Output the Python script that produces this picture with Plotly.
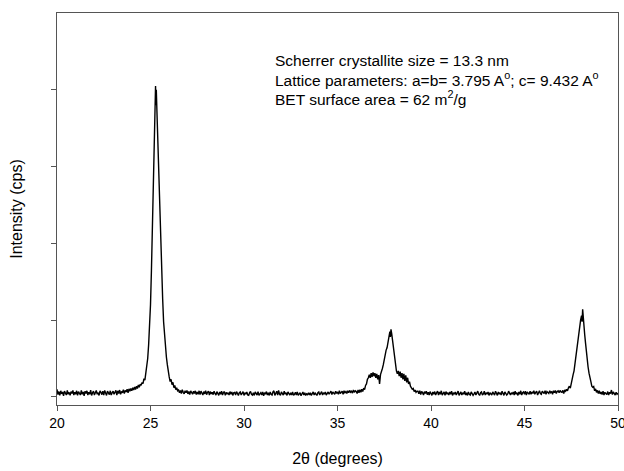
import numpy as np
import plotly.graph_objects as go

# ---- Data (2-theta in degrees, intensity in cps) ----
# Baseline segments on a regular 0.05 deg step scan grid
seg_a_start = 20.00
seg_a_intensity = [
    100, 30, 70, 20, 80, 40, 65, 15, 75, 45, 25, 85, 35, 60, 20, 70, 45, 85, 25, 60,
    35, 80, 20, 70, 50, 25, 85, 35, 65, 15, 75, 45, 80, 25, 60, 35, 90, 20, 55, 75,
    25, 65, 85, 35, 55, 20, 80, 60, 30, 75, 25, 85, 45, 20, 75, 60, 30, 80, 25, 55,
    75, 35, 60, 85, 25, 80, 45, 90, 35, 70, 55, 95, 45, 85, 65, 100, 55, 105, 75, 110,
    80, 120, 90, 130, 95, 140, 110, 155, 125, 165,
]

peak1_theta = [24.50, 24.55, 24.60, 24.65, 24.70, 24.75, 24.80, 24.85, 24.90, 24.95,
               25.00, 25.05, 25.10, 25.15, 25.20, 25.24, 25.27, 25.29, 25.31, 25.34,
               25.38, 25.42, 25.46, 25.50, 25.55, 25.60, 25.65, 25.70, 25.75, 25.80,
               25.85, 25.90, 25.95, 26.00, 26.05, 26.10, 26.15, 26.20, 26.25, 26.30,
               26.35, 26.40, 26.45]
peak1_intensity = [150, 190, 175, 240, 220, 320, 380, 500, 680, 900,
                   1200, 1650, 2200, 2850, 3450, 3850, 4050, 3800, 4000, 3750,
                   3400, 3050, 2700, 2400, 2050, 1650, 1280, 980, 780, 640,
                   520, 420, 310, 260, 200, 230, 160, 190, 120, 150,
                   95, 120, 80]

seg_b_start = 26.50
seg_b_intensity = [
    90, 55, 85, 45, 95, 60, 40, 80, 55, 85, 40, 70, 30, 80, 55, 35, 75, 45, 80, 30,
    65, 35, 80, 30, 75, 50, 25, 70, 40, 80, 30, 60, 75, 25, 70, 40, 60, 30, 75, 45,
    25, 70, 45, 20, 65, 35, 75, 25, 55, 70, 20, 60, 35, 55, 25, 70, 35, 65, 20, 55,
    60, 25, 70, 35, 20, 55, 65, 25, 40, 70, 20, 55, 35, 65, 25, 20, 55, 70, 35, 25,
    55, 20, 65, 35, 25, 70, 20, 40, 55, 25, 65, 15, 55, 35, 70, 25, 55, 20, 65, 35,
    25, 65, 80, 20, 55, 75, 25, 85, 35, 20, 65, 50, 25, 75, 35, 55, 20, 65, 35, 25,
    55, 25, 65, 20, 35, 60, 25, 65, 20, 40, 55, 15, 40, 65, 25, 55, 20, 40, 30, 55,
    25, 55, 20, 40, 65, 25, 55, 35, 20, 55, 65, 25, 40, 70, 25, 55, 35, 65, 25, 55,
    65, 35, 55, 75, 30, 65, 50, 35, 75, 45, 65, 35, 80, 45, 60, 75, 35, 80, 55, 70,
    45, 80, 55, 85, 60, 75, 50, 90, 60, 80,
]

peak2_theta = [36.00, 36.05, 36.10, 36.15, 36.20, 36.25, 36.30, 36.35, 36.40, 36.45,
               36.50, 36.55, 36.60, 36.65, 36.70, 36.75, 36.80, 36.85, 36.90, 36.95,
               37.00, 37.05, 37.10, 37.15, 37.20, 37.25, 37.30, 37.35, 37.40, 37.45,
               37.50, 37.55, 37.60, 37.65, 37.70, 37.75, 37.80, 37.83, 37.86, 37.90,
               37.95, 38.00, 38.05, 38.10, 38.15, 38.20, 38.25, 38.30, 38.35, 38.40,
               38.45, 38.50, 38.55, 38.60, 38.65, 38.70, 38.75, 38.80, 38.85, 38.90,
               38.95, 39.00, 39.05, 39.10, 39.15, 39.20, 39.25]
peak2_intensity = [70, 45, 90, 55, 95, 60, 100, 70, 115, 95,
                   150, 170, 230, 250, 290, 250, 310, 260, 320, 270,
                   310, 250, 300, 230, 285, 170, 290, 320, 370, 420,
                   490, 540, 610, 640, 730, 760, 850, 780, 880, 820,
                   720, 600, 470, 400, 340, 300, 340, 270, 330, 250,
                   310, 230, 300, 210, 280, 190, 250, 170, 200, 140,
                   120, 100, 110, 70, 90, 60, 75]

seg_c_start = 39.30
seg_c_intensity = [
    75, 40, 80, 30, 70, 55, 25, 70, 45, 75, 30, 60, 25, 70, 45, 20, 65, 35, 70, 25,
    55, 75, 25, 65, 35, 80, 25, 50, 65, 20, 70, 35, 55, 25, 65, 35, 75, 20, 55, 35,
    65, 25, 55, 75, 20, 40, 65, 25, 55, 35, 75, 25, 55, 20, 65, 35, 25, 65, 50, 20,
    40, 65, 25, 55, 75, 35, 20, 55, 65, 25, 40, 75, 25, 55, 35, 65, 20, 55, 35, 25,
    65, 35, 25, 75, 50, 20, 65, 35, 55, 25, 75, 35, 20, 65, 50, 25, 40, 75, 50, 25,
    55, 35, 65, 25, 75, 35, 55, 20, 65, 35, 80, 25, 55, 65, 35, 75, 25, 65, 50, 35,
    75, 35, 65, 45, 80, 35, 60, 75, 25, 65, 80, 45, 35, 75, 60, 45, 80, 35, 70, 55,
    45, 80, 55, 70, 35, 80, 55, 85, 45, 70, 80, 55, 85, 65,
]

peak3_theta = [47.00, 47.05, 47.10, 47.15, 47.20, 47.25, 47.30, 47.35, 47.40, 47.45,
               47.50, 47.55, 47.60, 47.65, 47.70, 47.75, 47.80, 47.85, 47.90, 47.95,
               48.00, 48.05, 48.08, 48.11, 48.14, 48.18, 48.22, 48.26, 48.30, 48.35,
               48.40, 48.45, 48.50, 48.55, 48.60, 48.65, 48.70, 48.75, 48.80, 48.85,
               48.90, 48.95]
peak3_intensity = [60, 85, 45, 90, 75, 100, 80, 120, 140, 115,
                   190, 210, 290, 340, 440, 510, 630, 730, 850, 910,
                   1000, 1060, 980, 1140, 1000, 910, 810, 710, 590, 490,
                   390, 310, 230, 200, 140, 125, 135, 80, 105, 60,
                   85, 45]

seg_d_start = 49.00
seg_d_intensity = [80, 40, 65, 30, 75, 25, 60, 45, 30, 70, 25, 60, 45, 90, 30, 65,
                   45, 25, 60, 35, 50]

scan_step = 0.05

y_tick_values = [0, 1000, 2000, 3000, 4000]
x_tick_values = [20, 25, 30, 35, 40, 45, 50]

annotation_lines = [
    "Scherrer crystallite size = 13.3 nm",
    "Lattice parameters: a=b= 3.795 A<sup>o</sup>; c= 9.432 A<sup>o</sup>",
    "BET surface area = 62 m<sup>2</sup>/g",
]


def grid(start, values):
    return list(np.round(start + scan_step * np.arange(len(values)), 4))


theta = (grid(seg_a_start, seg_a_intensity) + peak1_theta
         + grid(seg_b_start, seg_b_intensity) + peak2_theta
         + grid(seg_c_start, seg_c_intensity) + peak3_theta
         + grid(seg_d_start, seg_d_intensity))
intensity = (seg_a_intensity + peak1_intensity + seg_b_intensity + peak2_intensity
             + seg_c_intensity + peak3_intensity + seg_d_intensity)

fig = go.Figure()
fig.add_trace(go.Scatter(x=theta, y=intensity, mode="lines",
                         line=dict(color="black", width=1.4),
                         showlegend=False, hoverinfo="skip"))

font_family = "Liberation Sans, Arial, sans-serif"
axis_color = "#555555"

fig.update_layout(
    width=624, height=471,
    margin=dict(l=57, r=6, t=13, b=66, autoexpand=False),
    paper_bgcolor="white", plot_bgcolor="white",
    font=dict(family=font_family, size=14, color="black"),
    xaxis=dict(range=[20, 50], tickvals=x_tick_values, ticks="outside", ticklen=5,
               tickcolor=axis_color, showline=True, linecolor=axis_color, linewidth=1.2,
               mirror=True, showgrid=False, zeroline=False, ticklabeloverflow="allow",
               automargin=False,
               tickfont=dict(size=14, color="black"),
               title=dict(text="2\u03b8 (degrees)", font=dict(size=16), standoff=22)),
    yaxis=dict(range=[-105, 5000], tickvals=y_tick_values, showticklabels=False,
               ticks="outside", ticklen=5, tickcolor=axis_color, automargin=False,
               showline=True, linecolor=axis_color, linewidth=1.2, mirror=True,
               showgrid=False, zeroline=False,
               title=dict(text="Intensity (cps)", font=dict(size=16), standoff=24)),
)

line_y_px = [60, 79, 98]
plot_top, plot_h = 13, 471 - 13 - 66
for txt, ypx in zip(annotation_lines, line_y_px):
    fig.add_annotation(text=txt, xref="paper", yref="paper",
                       x=(273 - 57) / (624 - 57 - 6), y=1 - (ypx - plot_top) / plot_h,
                       xanchor="left", yanchor="middle", showarrow=False,
                       font=dict(size=15.5, color="black", family=font_family), align="left")

fig.write_html("out.html")
